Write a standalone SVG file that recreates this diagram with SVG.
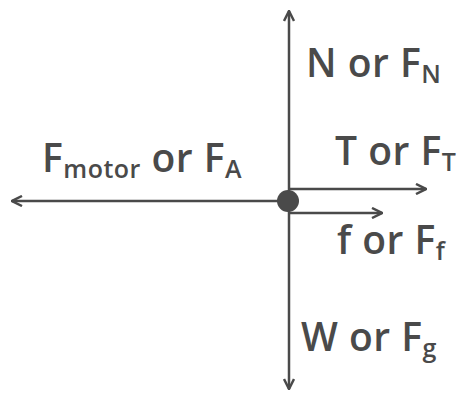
<svg xmlns="http://www.w3.org/2000/svg" width="462" height="394" viewBox="0 0 462 394">
<style>
.ln{stroke:#4a4a4a;stroke-width:2.5;fill:none}
.lb{font-family:"Open Sans","Liberation Sans",sans-serif;font-size:39px;fill:#4a4a4a;font-weight:600;letter-spacing:0.5px}
.sub{font-size:25px}
</style>
<defs>
<marker id="ah" viewBox="0 0 10 10" refX="9" refY="5" markerWidth="5" markerHeight="5" orient="auto" markerUnits="strokeWidth">
<path d="M1,1 L9,5 L1,9" fill="none" stroke="#4a4a4a" stroke-width="2"/>
</marker>
</defs>
<rect width="462" height="394" fill="#fff"/>
<g id="connectors">
<line class="ln" x1="289" y1="201" x2="289" y2="11" marker-end="url(#ah)"/>
<line class="ln" x1="289" y1="201" x2="289" y2="389" marker-end="url(#ah)"/>
<line class="ln" x1="289" y1="201" x2="12" y2="201" marker-end="url(#ah)"/>
<line class="ln" x1="289" y1="189" x2="426" y2="189" marker-end="url(#ah)"/>
<line class="ln" x1="289" y1="213" x2="382" y2="213" marker-end="url(#ah)"/>
</g>
<g id="body"><circle cx="288" cy="201" r="11" fill="#4a4a4a"/></g>
<g id="normal"><text class="lb" x="306" y="77">N or F<tspan class="sub" dy="6">N</tspan></text></g>
<g id="motor"><text class="lb" x="42" y="172">F<tspan class="sub" dy="6">motor</tspan><tspan dy="-6"> or F</tspan><tspan class="sub" dy="6">A</tspan></text></g>
<g id="tension"><text class="lb" x="335" y="165">T or F<tspan class="sub" dy="6">T</tspan></text></g>
<g id="friction"><text class="lb" x="337" y="254">f or F<tspan class="sub" dy="6">f</tspan></text></g>
<g id="weight"><text class="lb" x="301" y="351">W or F<tspan class="sub" dy="6">g</tspan></text></g>
</svg>
